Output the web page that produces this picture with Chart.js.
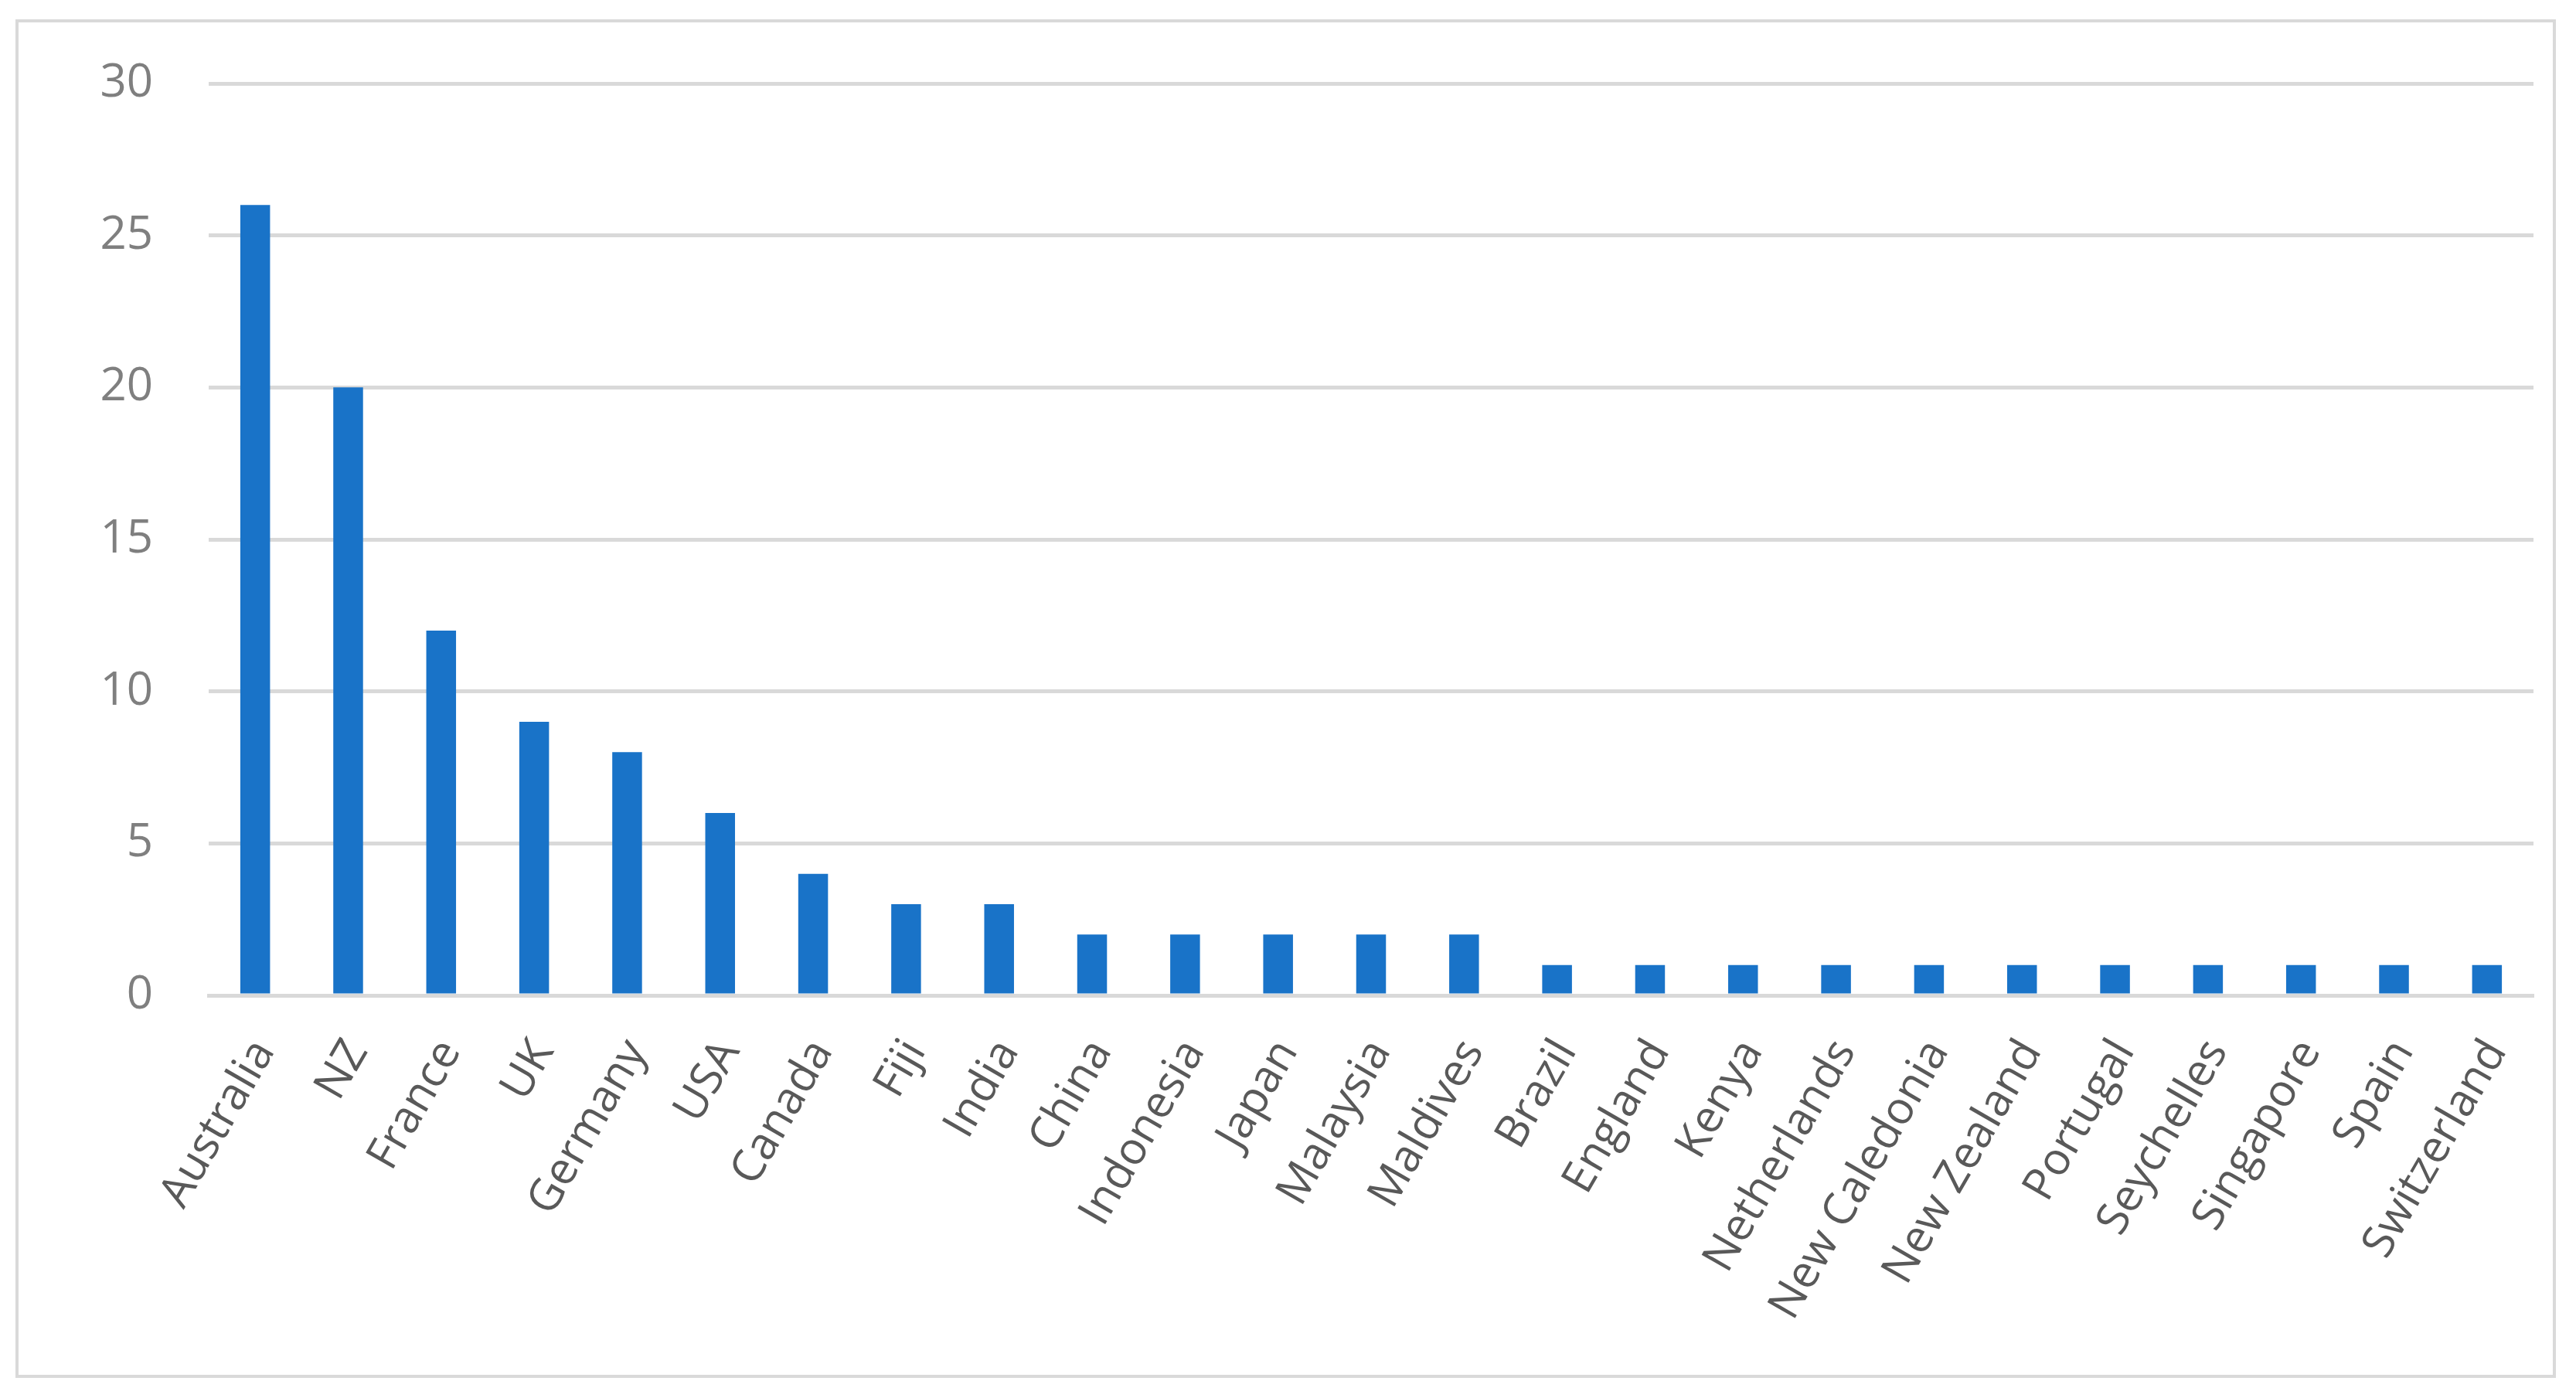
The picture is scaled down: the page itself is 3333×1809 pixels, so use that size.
<!DOCTYPE html>
<html>
<head>
<meta charset="utf-8">
<script src="https://cdn.jsdelivr.net/npm/chart.js@4.4.0/dist/chart.umd.min.js"></script>
<style>
  html, body { margin: 0; padding: 0; background: #ffffff; }
  #wrap { position: relative; width: 3333px; height: 1809px; }
</style>
</head>
<body>
<div id="wrap"><canvas id="myChart" width="3333" height="1809"></canvas></div>
<script>
// countries and counts
var countries = ['Australia', 'NZ', 'France', 'UK', 'Germany', 'USA', 'Canada', 'Fiji', 'India',
                 'China', 'Indonesia', 'Japan', 'Malaysia', 'Maldives', 'Brazil', 'England', 'Kenya',
                 'Netherlands', 'New Caledonia', 'New Zealand', 'Portugal', 'Seychelles', 'Singapore',
                 'Spain', 'Switzerland'];
var counts = [26, 20, 12, 9, 8, 6, 4, 3, 3, 2, 2, 2, 2, 2, 1, 1, 1, 1, 1, 1, 1, 1, 1, 1, 1];
var yTicks = [0, 5, 10, 15, 20, 25, 30];

// light grey frame round the whole chart
var framePlugin = {
    id: 'frame',
    beforeDraw: function(chart) {
        var ctx = chart.ctx;
        ctx.save();
        ctx.fillStyle = '#ffffff';
        ctx.fillRect(0, 0, chart.width, chart.height);
        ctx.strokeStyle = '#d9d9d9';
        ctx.lineWidth = 4;
        ctx.strokeRect(22, 27, 3283, 1754);
        ctx.restore();
    }
};

var ctx = document.getElementById('myChart').getContext('2d');
var myChart = new Chart(ctx, {
    type: 'bar',
    data: {
        labels: countries,
        datasets: [{
            data: counts,
            backgroundColor: '#1973c8',
            borderWidth: 0,
            barPercentage: 0.32,
            categoryPercentage: 1.0
        }]
    },
    options: {
        responsive: false,
        animation: false,
        devicePixelRatio: 1,
        layout: { padding: { left: 0, right: 55, top: 108, bottom: 0 } },
        plugins: {
            legend: { display: false },
            tooltip: { enabled: false }
        },
        scales: {
            x: {
                grid: { display: false },
                border: { display: true, color: '#d9d9d9', width: 5 },
                ticks: {
                    autoSkip: false,
                    minRotation: 60,
                    maxRotation: 60,
                    padding: 38,
                    labelOffset: 12,
                    color: '#595959',
                    font: { family: '"Open Sans", sans-serif', size: 58 }
                },
                afterFit: function(scale) { scale.height = 1809 - 1288; }
            },
            y: {
                min: 0,
                max: 30,
                afterBuildTicks: function(scale) {
                    scale.ticks = yTicks.map(function(v) { return { value: v }; });
                },
                grid: { color: '#d9d9d9', lineWidth: 5, drawTicks: false },
                border: { display: false },
                ticks: {
                    padding: 72,
                    color: '#7f7f7f',
                    font: { family: '"Open Sans", sans-serif', size: 60 }
                },
                afterFit: function(scale) { scale.width = 270; }
            }
        }
    },
    plugins: [framePlugin]
});
</script>
</body>
</html>
